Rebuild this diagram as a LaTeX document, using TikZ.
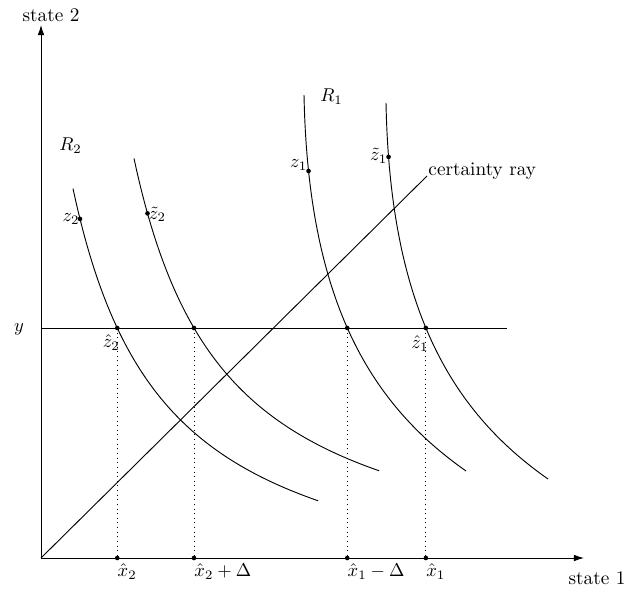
\documentclass[tikz,border=0pt]{standalone}
\usetikzlibrary{arrows.meta,intersections,calc}
\begin{document}
\begin{tikzpicture}[x=0.54pt,y=0.54pt,line width=0.5pt,
  every node/.style={font=\fontsize{10.4}{12}\selectfont},
  curve/.style={line width=0.5pt},
  axis/.style={line width=0.5pt,-{Latex[length=5.5pt,width=3.6pt]}},
  guide/.style={dotted,line width=0.5pt},
  pt/.style={circle,fill,inner sep=0pt,minimum size=2.5pt},
  lbl/.style={inner sep=0pt}]
\useasboundingbox (-41,-33) rectangle (584,558);
% axes
\coordinate (O) at (0,0);
\coordinate (xend) at (543,0);
\coordinate (yend) at (0,533);
\draw[axis] (O) -- (xend);
\draw[axis] (O) -- (yend);
\node[lbl] (s1) at (556,-20) {state 1};
\node[lbl] (s2) at (10,543) {state 2};
% income line
\coordinate (hl0) at (0,230);
\coordinate (hl1) at (466,230);
\draw[name path=hl] (hl0) -- (hl1);
\node[lbl] (ylab) at (-22,229) {$y$};
% certainty ray
\coordinate (cr) at (386,382);
\draw (O) -- (cr);
\node[lbl,anchor=west] (crlab) at ($(cr)+(1,5)$) {certainty ray};
% R2 curves
\draw[curve,name path=c1] plot[domain=32:277,samples=90,smooth] (\x,{395/(0.01*\x+0.6)-60});
\draw[curve,name path=c2] plot[domain=93:338,samples=90,smooth] (\x,{395/(0.01*\x-0.01)-30});
% R1 curves
\draw[curve,name path=c3] (263,463) .. controls (267,263) and (325,157) .. (425,87) coordinate[pos=0.135] (z1);
\draw[curve,name path=c4] (345,455) .. controls (349,255) and (407,149) .. (507,79) coordinate[pos=0.094] (zt1);
\coordinate (z2) at (39,{395/(0.01*39+0.6)-60});
\coordinate (zt2) at (106.5,{395/(0.01*106.5-0.01)-30});
% intersections with income line
\path[name intersections={of=c1 and hl, by=zh2}];
\path[name intersections={of=c2 and hl, by=zd2}];
\path[name intersections={of=c3 and hl, by=zd1}];
\path[name intersections={of=c4 and hl, by=zh1}];
\coordinate (xh2) at (zh2 |- O);
\coordinate (xd2) at (zd2 |- O);
\coordinate (xd1) at (zd1 |- O);
\coordinate (xh1) at (zh1 |- O);
\draw[guide] (zh2) -- (xh2);
\draw[guide] (zd2) -- (xd2);
\draw[guide] (zd1) -- (xd1);
\draw[guide] (zh1) -- (xh1);
% dots
\foreach \p in {zh2,zd2,zd1,zh1,xh2,xd2,xd1,xh1,z1,zt1,z2,zt2}
  \node[pt] at (\p) {};
% labels
\node[lbl] (R1) at (290.5,461.5) {$R_1$};
\node[lbl] (R2) at (29.5,412) {$R_2$};
\node[lbl,anchor=east] (z2lab) at (z2) {$z_2$};
\node[lbl,anchor=west] (zt2lab) at ($(zt2)+(1,-1)$) {$\tilde{z}_2$};
\node[lbl,anchor=east] (z1lab) at ($(z1)+(-1,6)$) {$z_1$};
\node[lbl,anchor=east] (zt1lab) at ($(zt1)+(-1,1)$) {$\tilde{z}_1$};
\node[lbl,anchor=north east] (zh2lab) at ($(zh2)+(3,-6)$) {$\hat{z}_2$};
\node[lbl,anchor=north east] (zh1lab) at ($(zh1)+(3,-7)$) {$\hat{z}_1$};
\node[lbl,anchor=north west] (xh2lab) at ($(xh2)+(0,-5)$) {$\hat{x}_2$};
\node[lbl,anchor=north west] (xd2lab) at ($(xd2)+(0,-5)$) {$\hat{x}_2+\Delta$};
\node[lbl,anchor=north west] (xd1lab) at ($(xd1)+(0,-5)$) {$\hat{x}_1-\Delta$};
\node[lbl,anchor=north west] (xh1lab) at ($(xh1)+(0,-5)$) {$\hat{x}_1$};
\end{tikzpicture}
\end{document}
